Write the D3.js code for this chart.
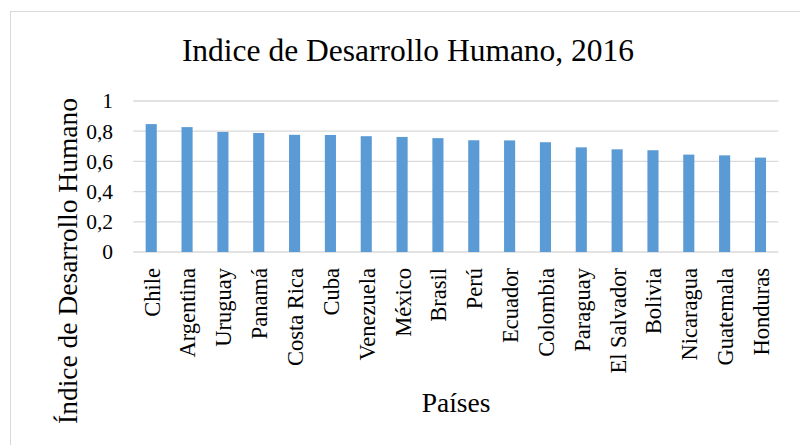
<!DOCTYPE html>
<html><head><meta charset="utf-8">
<script src="https://cdn.jsdelivr.net/npm/d3@7"></script>
<style>body{margin:0;background:#fff}svg{display:block}</style>
</head><body>
<svg id="chart" width="800" height="445" font-family="'Liberation Serif', 'Times New Roman', serif"></svg>
<script>
const categories = ["Chile","Argentina","Uruguay","Panamá","Costa Rica","Cuba","Venezuela","México","Brasil","Perú","Ecuador","Colombia","Paraguay","El Salvador","Bolivia","Nicaragua","Guatemala","Honduras"];
const values = [0.847,0.827,0.795,0.788,0.776,0.775,0.767,0.762,0.754,0.740,0.739,0.727,0.693,0.680,0.674,0.645,0.640,0.625];
const yTicks = [0,0.2,0.4,0.6,0.8,1];
const tickLabels = ["0","0,2","0,4","0,6","0,8","1"];
const title = "Indice de Desarrollo Humano, 2016";
const xTitle = "Países";
const yTitle = "Índice de Desarrollo Humano";

(function(){
const svg = d3.select("#chart");
svg.append("rect").attr("x",10.5).attr("y",11.5).attr("width",800).attr("height",445)
  .attr("fill","#fff").attr("stroke","#d9d9d9").attr("stroke-width",1);

const pLeft = 133.3, pRight = 778.4, pTop = 101, pBottom = 252;
const x = d3.scaleBand().domain(categories).range([pLeft,pRight]).paddingInner(0.69).paddingOuter(0.345);
const y = d3.scaleLinear().domain([0,1]).range([pBottom,pTop]);

svg.append("g").selectAll("line").data(yTicks).join("line")
  .attr("x1",pLeft).attr("x2",pRight)
  .attr("y1",d=>y(d)).attr("y2",d=>y(d))
  .attr("stroke","#d9d9d9").attr("stroke-width",1.3);

svg.append("g").selectAll("rect").data(values).join("rect")
  .attr("x",(d,i)=>x(categories[i])).attr("width",x.bandwidth())
  .attr("y",d=>y(d)).attr("height",d=>y(0)-y(d))
  .attr("fill","#5b9bd5");

svg.append("g").selectAll("text").data(yTicks).join("text")
  .attr("x",113).attr("y",d=>y(d)).attr("dy","0.34em")
  .attr("text-anchor","end").attr("font-size",21.5).attr("fill","#000")
  .text((d,i)=>tickLabels[i]);

svg.append("g").selectAll("text").data(categories).join("text")
  .attr("transform",d=>`translate(${x(d)+x.bandwidth()/2+1},${pBottom+16}) rotate(-90)`)
  .attr("dy","0.33em").attr("text-anchor","end").attr("font-size",22.5).attr("fill","#000")
  .text(d=>d);

svg.append("text").attr("x",408).attr("y",61).attr("text-anchor","middle")
  .attr("font-size",31.5).text(title);
svg.append("text").attr("x",456).attr("y",412).attr("text-anchor","middle")
  .attr("font-size",27.5).text(xTitle);
svg.append("text").attr("transform","translate(77,261) rotate(-90)").attr("text-anchor","middle")
  .attr("font-size",27.5).text(yTitle);
})();
</script>
</body></html>
